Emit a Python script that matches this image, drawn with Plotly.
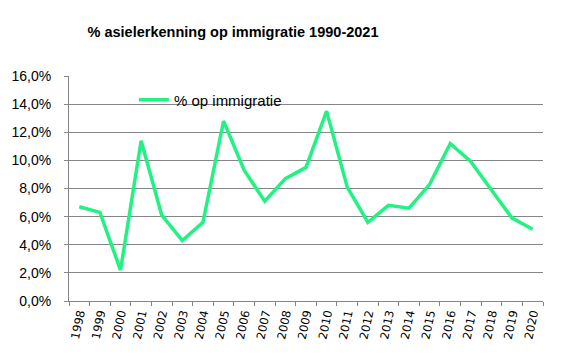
import plotly.graph_objects as go

years = [str(y) for y in range(1998, 2021)]
pct_op_immigratie = [6.7, 6.3, 2.2, 11.4, 6.1, 4.3, 5.6, 12.8, 9.3, 7.1, 8.7,
                     9.5, 13.5, 8.1, 5.6, 6.8, 6.6, 8.3, 11.2, 9.9, 7.9, 5.9, 5.1]
y_tickvals = [0, 2, 4, 6, 8, 10, 12, 14, 16]
y_ticktext = ["0,0%", "2,0%", "4,0%", "6,0%", "8,0%", "10,0%", "12,0%", "14,0%", "16,0%"]
title_text = "% asielerkenning op immigratie 1990-2021"
series_name = "% op immigratie"

W, H = 570, 349
L, T, R, B = 61, 68, 35, 56

fig = go.Figure()
fig.add_trace(go.Scatter(
    x=years, y=pct_op_immigratie, mode="lines", name=series_name,
    line=dict(color="#22F283", width=3.5), showlegend=True,
))

fig.update_layout(
    width=W, height=H,
    margin=dict(l=L, r=R, t=T, b=B, autoexpand=False),
    paper_bgcolor="white", plot_bgcolor="white",
    title=dict(text="<b>" + title_text + "</b>", x=225 / W, xref="container",
               xanchor="center", y=1 - 24 / H, yref="container", yanchor="middle",
               font=dict(family="Liberation Sans", size=14.5, color="black")),
    showlegend=True,
    legend=dict(x=0.137, xanchor="left", y=0.967, yanchor="top",
                bgcolor="rgba(0,0,0,0)", font=dict(family="Liberation Sans", size=15, color="black"),
                itemwidth=30),
    xaxis=dict(type="category", tickson="boundaries", showgrid=False,
               showline=True, linecolor="#868686", linewidth=1,
               ticks="outside", ticklen=4, tickcolor="#868686",
               tickangle=-78, tickfont=dict(family="DejaVu Sans", size=11.5, color="black"),
               range=[-0.5, len(years) - 0.5]),
    yaxis=dict(range=[0, 16], tickvals=y_tickvals, ticktext=y_ticktext,
               showgrid=True, gridcolor="#868686", gridwidth=1,
               showline=True, linecolor="#868686", linewidth=1,
               ticks="outside", ticklen=4, tickcolor="#868686",
               ticklabelstandoff=10,
               tickfont=dict(family="Liberation Sans", size=14, color="black"),
               zeroline=False),
)

fig.write_html("out.html")
